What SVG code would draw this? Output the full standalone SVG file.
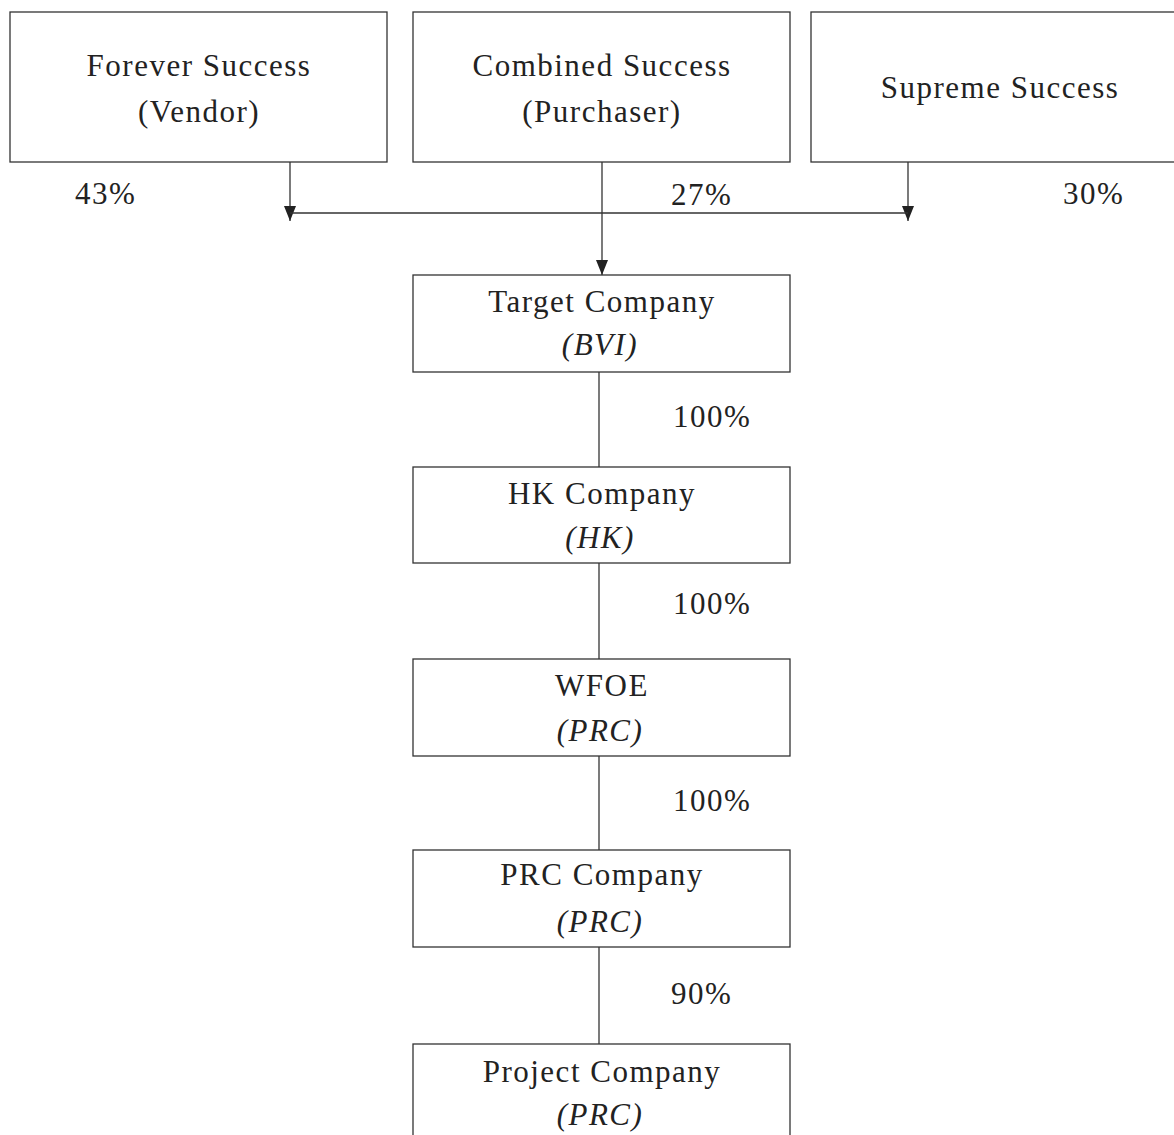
<svg xmlns="http://www.w3.org/2000/svg" width="1174" height="1135" viewBox="0 0 1174 1135">
<style>
rect.box{fill:#fff;stroke:#333;stroke-width:1.3}
text{font-family:"Liberation Serif","Times New Roman",serif;font-size:31px;fill:#222;letter-spacing:1.5px;text-anchor:middle}
text.i{font-style:italic}
text.p{text-anchor:start}
.ln{stroke:#333;stroke-width:1.3;fill:none}
</style>
<defs>
<marker id="ah" viewBox="0 0 15 12" refX="15" refY="6" markerWidth="15" markerHeight="12" markerUnits="userSpaceOnUse" orient="auto">
<path d="M0,0 L15,6 L0,12 Z" fill="#222"/>
</marker>
</defs>
<rect width="1174" height="1135" fill="#fff"/>
<g id="connectors">
<line class="ln" x1="290" y1="162" x2="290" y2="221" marker-end="url(#ah)"/>
<line class="ln" x1="908" y1="162" x2="908" y2="221" marker-end="url(#ah)"/>
<line class="ln" x1="290" y1="213" x2="908" y2="213"/>
<line class="ln" x1="602" y1="162" x2="602" y2="275" marker-end="url(#ah)"/>
<line class="ln" x1="599" y1="372" x2="599" y2="467"/>
<line class="ln" x1="599" y1="563" x2="599" y2="659"/>
<line class="ln" x1="599" y1="756" x2="599" y2="850"/>
<line class="ln" x1="599" y1="947" x2="599" y2="1044"/>
<text class="p" x="75" y="204">43%</text>
<text class="p" x="671" y="205">27%</text>
<text class="p" x="1063" y="204">30%</text>
<text class="p" x="673" y="427">100%</text>
<text class="p" x="673" y="614">100%</text>
<text class="p" x="673" y="811">100%</text>
<text class="p" x="671" y="1004">90%</text>
</g>
<g id="forever">
<rect class="box" x="10" y="12" width="377" height="150"/>
<text x="199" y="76">Forever Success</text>
<text x="199" y="122">(Vendor)</text>
</g>
<g id="combined">
<rect class="box" x="413" y="12" width="377" height="150"/>
<text x="602" y="76">Combined Success</text>
<text x="602" y="122">(Purchaser)</text>
</g>
<g id="supreme">
<rect class="box" x="811" y="12" width="377" height="150"/>
<text x="1000" y="98">Supreme Success</text>
</g>
<g id="target">
<rect class="box" x="413" y="275" width="377" height="97"/>
<text x="602" y="312">Target Company</text>
<text class="i" x="600" y="355">(BVI)</text>
</g>
<g id="hk">
<rect class="box" x="413" y="467" width="377" height="96"/>
<text x="602" y="504">HK Company</text>
<text class="i" x="600" y="548">(HK)</text>
</g>
<g id="wfoe">
<rect class="box" x="413" y="659" width="377" height="97"/>
<text x="602" y="696">WFOE</text>
<text class="i" x="600" y="741">(PRC)</text>
</g>
<g id="prc">
<rect class="box" x="413" y="850" width="377" height="97"/>
<text x="602" y="885">PRC Company</text>
<text class="i" x="600" y="932">(PRC)</text>
</g>
<g id="project">
<rect class="box" x="413" y="1044" width="377" height="120"/>
<text x="602" y="1082">Project Company</text>
<text class="i" x="600" y="1125">(PRC)</text>
</g>
</svg>
